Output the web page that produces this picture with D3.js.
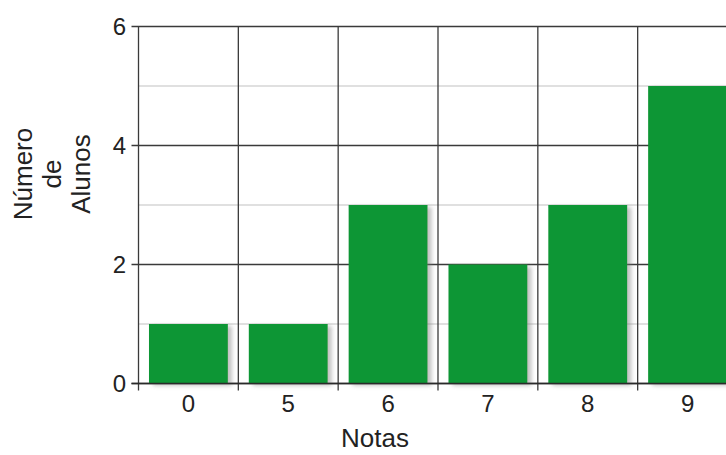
<!DOCTYPE html>
<html>
<head>
<meta charset="utf-8">
<script src="https://cdn.jsdelivr.net/npm/d3@7"></script>
<style>
  html, body { margin: 0; padding: 0; background: #fff; }
  svg { display: block; font-family: "Liberation Sans", Arial, sans-serif; }
</style>
</head>
<body>
<svg id="chart" width="726" height="455"></svg>
<script>
// Grades and number of students per grade
const notas = ["0", "5", "6", "7", "8", "9"];
const alunos = [1, 1, 3, 2, 3, 5];
const majorTicks = [0, 2, 4, 6];
const minorTicks = [1, 3, 5];

const svg = d3.select("#chart");

const plotLeft = 138.5, plotRight = 737.5, plotTop = 26.5, plotBottom = 383.5;

const x = d3.scaleBand()
  .domain(notas)
  .range([plotLeft, plotRight])
  .paddingInner(0.21)
  .paddingOuter(0.105);

const y = d3.scaleLinear().domain([0, 6]).range([plotBottom, plotTop]);

const step = x.step();
const boundaries = notas.map(d => x(d) - step * 0.105).concat([plotRight]);

// soft shadow under the bars
const defs = svg.append("defs");
const f = defs.append("filter").attr("id", "shadow")
  .attr("x", "-10%").attr("y", "-10%").attr("width", "130%").attr("height", "130%");
f.append("feDropShadow")
  .attr("dx", 4).attr("dy", 2).attr("stdDeviation", 2)
  .attr("flood-color", "#777").attr("flood-opacity", 0.45);

// minor horizontal grid
svg.append("g").selectAll("line").data(minorTicks).join("line")
  .attr("x1", plotLeft).attr("x2", 726)
  .attr("y1", d => y(d)).attr("y2", d => y(d))
  .attr("stroke", "#d6d6d6").attr("stroke-width", 1.5);

// major horizontal grid with ticks on the left
svg.append("g").selectAll("line").data(majorTicks).join("line")
  .attr("x1", plotLeft - 7).attr("x2", 726)
  .attr("y1", d => y(d)).attr("y2", d => y(d))
  .attr("stroke", "#3a3a3a").attr("stroke-width", 1.3);

// vertical grid at category boundaries, with ticks below the axis
svg.append("g").selectAll("line").data(boundaries).join("line")
  .attr("x1", d => d).attr("x2", d => d)
  .attr("y1", plotTop).attr("y2", plotBottom + 7)
  .attr("stroke", "#3a3a3a").attr("stroke-width", 1.3);

// bars
svg.append("g").selectAll("rect").data(notas).join("rect")
  .attr("x", d => x(d))
  .attr("y", (d, i) => y(alunos[i]))
  .attr("width", x.bandwidth())
  .attr("height", (d, i) => y(0) - y(alunos[i]))
  .attr("fill", "#099634")
  .attr("filter", "url(#shadow)");

// baseline over the bars
svg.append("line")
  .attr("x1", plotLeft - 7).attr("x2", 726)
  .attr("y1", y(0)).attr("y2", y(0))
  .attr("stroke", "#2a2a2a").attr("stroke-width", 1.4);

// y tick labels
svg.append("g").selectAll("text").data(majorTicks).join("text")
  .attr("x", 126).attr("y", d => y(d))
  .attr("dy", "0.36em")
  .attr("text-anchor", "end")
  .attr("font-size", 24).attr("fill", "#222")
  .text(d => d);

// x tick labels
svg.append("g").selectAll("text").data(notas).join("text")
  .attr("x", d => x(d) + x.bandwidth() / 2)
  .attr("y", 412)
  .attr("text-anchor", "middle")
  .attr("font-size", 24).attr("fill", "#222")
  .text(d => d);

// axis titles
svg.append("text")
  .attr("x", 375).attr("y", 447)
  .attr("text-anchor", "middle")
  .attr("font-size", 26).attr("fill", "#222")
  .text("Notas");

const yTitle = ["Número", "de", "Alunos"];
svg.append("g").attr("transform", "translate(0,174) rotate(-90)")
  .selectAll("text").data(yTitle).join("text")
  .attr("x", 0)
  .attr("y", (d, i) => 32 + i * 29)
  .attr("text-anchor", "middle")
  .attr("font-size", 26).attr("fill", "#222")
  .text(d => d);
</script>
</body>
</html>
